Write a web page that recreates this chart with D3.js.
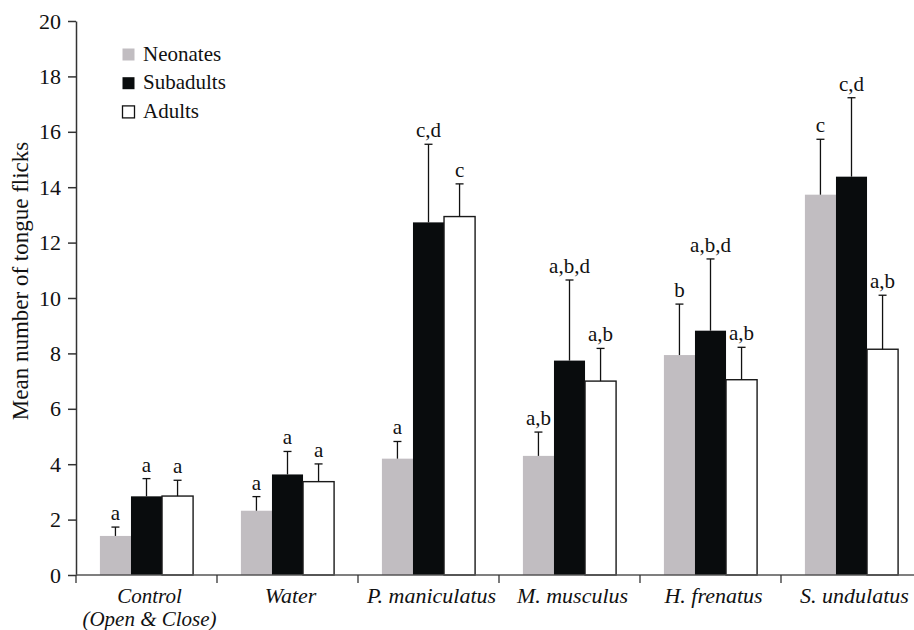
<!DOCTYPE html>
<html>
<head>
<meta charset="utf-8">
<script src="https://cdn.jsdelivr.net/npm/d3@7"></script>
<style>
  body { margin: 0; background: #fff; }
  svg text { font-family: "Liberation Serif", "Times New Roman", Times, "DejaVu Serif", serif; }
</style>
</head>
<body>
<svg id="chart" width="914" height="630"></svg>
<script>
// data
const categories = ['Control', 'Water', 'P. maniculatus', 'M. musculus', 'H. frenatus', 'S. undulatus'];
const series = ['Neonates', 'Subadults', 'Adults'];
const neonates = [1.41, 2.32, 4.2, 4.3, 7.94, 13.73];
const neonatesErr = [0.32, 0.51, 0.62, 0.86, 1.84, 2.0];
const subadults = [2.84, 3.63, 12.73, 7.74, 8.82, 14.38];
const subadultsErr = [0.64, 0.83, 2.82, 2.91, 2.59, 2.85];
const adults = [2.85, 3.37, 12.94, 7.0, 7.05, 8.15];
const adultsErr = [0.57, 0.64, 1.18, 1.18, 1.17, 1.95];
const neonatesLetters = ['a', 'a', 'a', 'a,b', 'b', 'c'];
const subadultsLetters = ['a', 'a', 'c,d', 'a,b,d', 'a,b,d', 'c,d'];
const adultsLetters = ['a', 'a', 'c', 'a,b', 'a,b', 'a,b'];
const yTicks = [0, 2, 4, 6, 8, 10, 12, 14, 16, 18, 20];

const colors = { Neonates: '#c1bdc1', Subadults: '#090c0d', Adults: '#ffffff' };
const serif = '"Liberation Serif", "Times New Roman", Times, "DejaVu Serif", serif';

const values = { Neonates: neonates, Subadults: subadults, Adults: adults };
const errs = { Neonates: neonatesErr, Subadults: subadultsErr, Adults: adultsErr };
const letters = { Neonates: neonatesLetters, Subadults: subadultsLetters, Adults: adultsLetters };

const rows = [];
categories.forEach((c, i) => {
  series.forEach(s => {
    rows.push({ cat: c, s: s, v: values[s][i], e: errs[s][i], l: letters[s][i] });
  });
});

const svg = d3.select('#chart');
const marginLeft = 76, marginTop = 21, plotBottom = 575;

const y = d3.scaleLinear().domain([0, 20]).range([plotBottom, marginTop]);
const x0 = d3.scaleBand().domain(categories).range([marginLeft, marginLeft + 6 * 141]).padding(0);
const x1 = d3.scaleBand().domain(series).range([0, x0.bandwidth()]).paddingInner(0).paddingOuter(0.77);

// bars
const g = svg.append('g');
g.selectAll('rect.bar')
  .data(rows)
  .enter()
  .append('rect')
  .attr('class', 'bar')
  .attr('x', d => x0(d.cat) + x1(d.s))
  .attr('y', d => y(d.v))
  .attr('width', x1.bandwidth())
  .attr('height', d => y(0) - y(d.v))
  .style('fill', d => colors[d.s])
  .style('stroke', d => d.s === 'Adults' ? '#1a1a1a' : 'none')
  .style('stroke-width', 1.4);

// error bars (upper only)
const cx = d => x0(d.cat) + x1(d.s) + x1.bandwidth() / 2;
g.selectAll('line.err')
  .data(rows)
  .enter()
  .append('line')
  .attr('class', 'err')
  .attr('x1', cx).attr('x2', cx)
  .attr('y1', d => y(d.v)).attr('y2', d => y(d.v + d.e))
  .style('stroke', '#111').style('stroke-width', 1.3);
g.selectAll('line.cap')
  .data(rows)
  .enter()
  .append('line')
  .attr('class', 'cap')
  .attr('x1', d => cx(d) - 4).attr('x2', d => cx(d) + 4)
  .attr('y1', d => y(d.v + d.e)).attr('y2', d => y(d.v + d.e))
  .style('stroke', '#111').style('stroke-width', 1.3);

// significance letters
g.selectAll('text.sig')
  .data(rows)
  .enter()
  .append('text')
  .attr('class', 'sig')
  .attr('x', cx)
  .attr('y', d => y(d.v + d.e) - 7)
  .attr('text-anchor', 'middle')
  .style('font-size', '21px')
  .style('fill', '#111')
  .text(d => d.l);

// y axis
const yAxis = svg.append('g')
  .attr('transform', `translate(${marginLeft},0)`)
  .call(d3.axisLeft(y).tickValues(yTicks).tickSize(8).tickSizeOuter(0).tickPadding(7));
yAxis.select('.domain').style('stroke', '#333').style('stroke-width', 1.5);
yAxis.selectAll('.tick line').style('stroke', '#333').style('stroke-width', 1.5);
yAxis.selectAll('.tick text')
  .attr('font-family', null)
  .style('font-family', serif)
  .style('font-size', '22px')
  .style('fill', '#111');

// x axis: baseline plus boundary ticks
const xAxis = svg.append('g');
xAxis.append('line')
  .attr('x1', marginLeft).attr('x2', 914)
  .attr('y1', y(0)).attr('y2', y(0))
  .style('stroke', '#555').style('stroke-width', 1.5);
xAxis.selectAll('line.xt')
  .data(categories)
  .enter()
  .append('line')
  .attr('class', 'xt')
  .attr('x1', d => x0(d)).attr('x2', d => x0(d))
  .attr('y1', y(0)).attr('y2', y(0) + 8)
  .style('stroke', '#333').style('stroke-width', 1.3);

const xl = xAxis.selectAll('text.xl')
  .data(categories)
  .enter()
  .append('text')
  .attr('class', 'xl')
  .attr('x', d => x0(d) + x0.bandwidth() / 2 + 3)
  .attr('y', y(0) + 28)
  .attr('text-anchor', 'middle')
  .style('font-size', d => d === 'Control' ? '21px' : '22px')
  .style('font-style', 'italic')
  .style('fill', '#111')
  .text(d => d);
// second line under Control, as a tspan of the same label
xl.filter(d => d === 'Control')
  .append('tspan')
  .attr('x', x0('Control') + x0.bandwidth() / 2 + 3)
  .attr('dy', 23)
  .text('(Open & Close)');

// y title
svg.append('text')
  .attr('transform', 'translate(28,281) rotate(-90)')
  .attr('text-anchor', 'middle')
  .style('font-size', '23px')
  .style('fill', '#111')
  .text('Mean number of tongue flicks');

// legend
const legend = svg.append('g').attr('transform', 'translate(122,48)');
const li = legend.selectAll('g')
  .data(series)
  .enter()
  .append('g')
  .attr('transform', (d, i) => `translate(0,${i * 28.7})`);
li.append('rect')
  .attr('width', 12).attr('height', 12)
  .attr('x', 0.5).attr('y', 0.5)
  .style('fill', d => colors[d])
  .style('stroke', d => d === 'Adults' ? '#111' : 'none')
  .style('stroke-width', 1.3);
li.append('text')
  .attr('x', 21)
  .attr('y', 12.5)
  .style('font-size', '21px')
  .style('fill', '#111')
  .text(d => d);
</script>
</body>
</html>
